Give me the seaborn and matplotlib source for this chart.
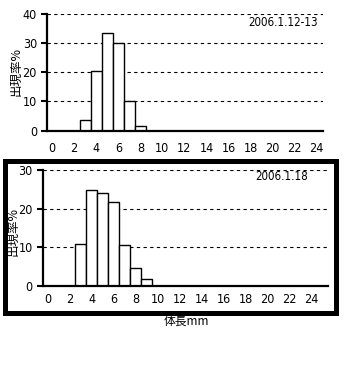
import numpy as np
import pandas as pd
import matplotlib
matplotlib.use("Agg")
import matplotlib.pyplot as plt
import seaborn as sns
from matplotlib.patches import Rectangle

# %% data
bins_top = list(range(0, 25))
pct_top = [0, 0, 0, 3.6, 20.5, 33.4, 30.0, 10.1, 1.5] + [0] * 16
bins_bot = list(range(0, 26))
pct_bot = [0, 0, 0, 10.9, 24.8, 24.0, 21.7, 10.6, 4.7, 1.9] + [0] * 16

label_top = "2006.1.12-13"
label_bot = "2006.1.18"
ylab = "出現率%"
xlab = "体長mm"
xticklabels = [str(v) for v in range(0, 26, 2)]

# %% figure
sns.set_style("white")
plt.rcParams["font.family"] = ["DejaVu Sans"]
plt.rcParams["font.stretch"] = "condensed"
for k in ["text.color", "xtick.color", "ytick.color", "axes.labelcolor"]:
    plt.rcParams[k] = "black"
jp = ["Noto Sans CJK JP", "DejaVu Sans"]

W, H = 354, 378
fig = plt.figure(figsize=(W / 100, H / 100), dpi=100)


def px_axes(left, right, top, bottom):
    return fig.add_axes([left / W, 1 - bottom / H, (right - left) / W, (bottom - top) / H])


def panel(ax, bins, vals, ymax, step, xmax, pad):
    df = pd.DataFrame({"size": bins, "pct": vals})
    sns.barplot(data=df, x="size", y="pct", order=bins, color="white", saturation=1,
                edgecolor="black", linewidth=1, width=1, ax=ax)
    ax.set_xlim(-0.5, xmax)
    ax.set_ylim(0, ymax)
    ax.set_yticks(np.arange(0, ymax + 1, step))
    ax.set_yticklabels([str(int(v)) for v in np.arange(0, ymax + 1, step)], fontsize=9)
    ax.set_xticks(range(0, 26, 2))
    ax.set_xticklabels(xticklabels, fontsize=9)
    ax.set_xticks(np.arange(0.5, xmax, 1), minor=True)
    ax.tick_params(axis="x", which="major", length=0, pad=pad)
    ax.tick_params(axis="x", which="minor", direction="in", length=3, width=1.5)
    ax.tick_params(axis="y", direction="out", length=4, width=1.5, pad=3, left=True)
    for y in np.arange(step, ymax + 1, step):
        ax.axhline(y, color="black", lw=0.8, ls=(0, (3, 3)), zorder=0)
    for s in ["top", "right"]:
        ax.spines[s].set_visible(False)
    for s in ["left", "bottom"]:
        ax.spines[s].set_linewidth(1.6)
        ax.spines[s].set_color("black")
    ax.set_xlabel("")
    ax.set_ylabel("")


ax1 = px_axes(46.7, 322.7, 14.3, 130.5)
panel(ax1, bins_top, pct_top, 40, 10, 24.55, 8)

ax2 = px_axes(42.5, 328, 170, 286)
panel(ax2, bins_bot, pct_bot, 30, 10, 25.5, 5)

def fig_text(x, y, s, **kw):
    fig.text(x / W, 1 - y / H, s, **kw)

fig_text(318, 22, label_top, fontsize=8.3, ha="right", va="center")
fig_text(308, 177, label_bot, fontsize=8.3, ha="right", va="center")
fig_text(16, 72, ylab, family=jp, fontsize=9, rotation=90, ha="center", va="center")
fig_text(13, 231, ylab, family=jp, fontsize=9, rotation=90, ha="center", va="center")
fig_text(186, 321, xlab, family=jp, fontsize=8.5, ha="center", va="center")

# thick frame around the lower panel
fig.patches.append(Rectangle((4.5 / W, 1 - 312.5 / H), (336 - 4.5) / W, (312.5 - 160.5) / H,
                             transform=fig.transFigure, fill=False, lw=3.6, ec="black"))

fig.savefig("out.png", dpi=100)
